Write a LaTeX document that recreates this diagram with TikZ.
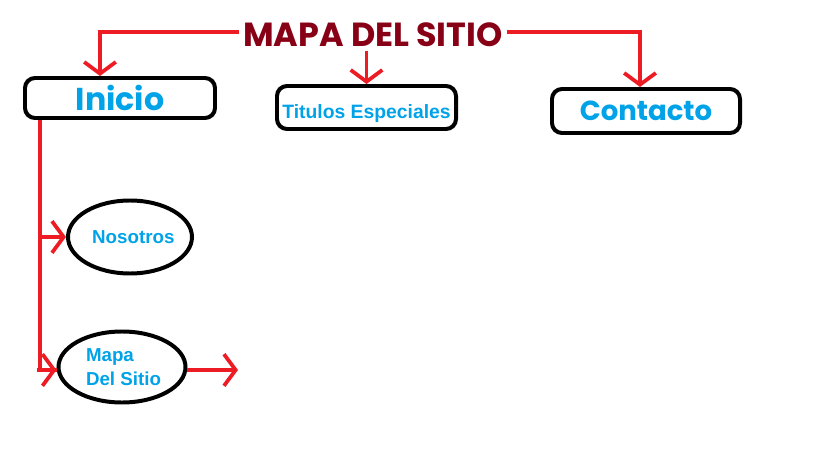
\documentclass[tikz,border=0pt]{standalone}
\usepackage{fontspec}
\setmainfont{Liberation Sans}
\newfontfamily\redonda{Poppins}
\usetikzlibrary{arrows.meta,shapes.geometric}

\definecolor{rojo}{HTML}{ED1C24}
\definecolor{granate}{HTML}{880015}
\definecolor{celeste}{HTML}{00A2E8}

\tikzset{
    caja/.style={draw=black, line width=3.4pt, rounded corners=0.3cm, inner sep=0pt},
    globo/.style={draw=black, line width=3.4pt, ellipse, inner sep=0pt},
    linea/.style={draw=rojo, line width=3.2pt},
    flecha/.style={linea, -{Straight Barb[length=10pt, width=27pt, line width=3.2pt]}},
    texto/.style={text=celeste, font=\bfseries}
}

\begin{document}
\begin{tikzpicture}[x=0.03cm, y=-0.03cm]
    \useasboundingbox (0,0) rectangle (819,460);

    % Titulo principal
    \node[text=granate, font=\redonda\bfseries\fontsize{28.5}{29}\selectfont] (titulo) at (373,35) {MAPA DEL SITIO};

    % Cajas de primer nivel
    \node[caja, minimum width=5.7cm, minimum height=1.2cm, texto, font=\redonda\bfseries\fontsize{27}{27}\selectfont] (inicio) at (120,98) {Inicio};
    \node[caja, minimum width=5.37cm, minimum height=1.29cm, texto, font=\bfseries\fontsize{16.5}{16.5}\selectfont, text height=19pt, text depth=0pt] (titulos) at (366.5,107.5) {Titulos Especiales};
    \node[caja, minimum width=5.64cm, minimum height=1.32cm, texto, font=\redonda\bfseries\fontsize{23.5}{23.5}\selectfont] (contacto) at (646,111) {Contacto};

    % Paginas de Inicio
    \node[globo, minimum width=3.72cm, minimum height=2.19cm, inner xsep=-0.07cm, texto, font=\bfseries\fontsize{16}{16}\selectfont] (nosotros) at (130,237) {\hspace*{0.2cm}Nosotros};
    \node[globo, minimum width=3.81cm, minimum height=2.13cm, texto, font=\bfseries\fontsize{16}{20}\selectfont, align=left] (mapa) at (122,367) {\hspace*{0.09cm}Mapa\\\hspace*{0.09cm}Del Sitio};
    \coordinate (salida) at (238,370);

    % Conexiones
    \draw[flecha] ([yshift=0.09cm]titulo.west) -| ([xshift=-0.6cm]inicio.north);
    \draw[flecha] (titulo.south -| titulos.north) -- (titulos.north);
    \draw[flecha] ([yshift=0.09cm]titulo.east) -| ([xshift=-0.18cm]contacto.north);
    \coordinate (bajada) at ([xshift=0.51cm]inicio.south west);
    \draw[linea] (bajada) |- ([yshift=-0.09cm]mapa.west);
    \draw[flecha] ([xshift=-0.6cm,yshift=-0.09cm]mapa.west) -- ([yshift=-0.09cm]mapa.west);
    \draw[flecha] (bajada |- nosotros.west) -- (nosotros.west);
    \draw[flecha] ([yshift=-0.09cm]mapa.east) -- (salida);
\end{tikzpicture}
\end{document}
